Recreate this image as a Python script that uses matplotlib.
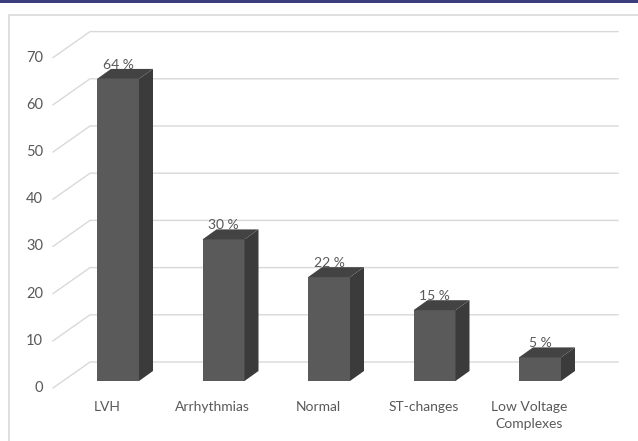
import matplotlib
matplotlib.use("Agg")
import matplotlib.pyplot as plt
from matplotlib.patches import Polygon, Rectangle

categories = ["LVH", "Arrhythmias", "Normal", "ST-changes", "Low Voltage\nComplexes"]
values = [64, 30, 22, 15, 5]
labels = ["64 %", "30 %", "22 %", "15 %", "5 %"]
yticks = [0, 10, 20, 30, 40, 50, 60, 70]

# pixel scale of the original (x: px per category, y: px per unit)
PX_X = 105.5
PX_Y = 4.72

def dx(px):
    return px / PX_X

def dy(px):
    return px / PX_Y

TEXT = "#595959"
GRID = "#d9d9d9"
FRONT = "#5a5a5a"
SIDE = "#3b3b3b"
TOP = "#434343"

fig = plt.figure(figsize=(6.38, 4.41), dpi=100)
ax = fig.add_axes([0, 0, 1, 1])
ax.set_xlim(-118 / PX_X, (638 - 118) / PX_X)
ax.set_ylim((381 - 441) / PX_Y, 381 / PX_Y)
ax.axis("off")

plt.rcParams["font.family"] = ["Lato", "DejaVu Sans"]

# outer frame and top rule
fig.patches.append(Rectangle((8.5 / 638, -0.01), 1.0, 1 - 10.5 / 441, transform=fig.transFigure,
                             fill=False, edgecolor="#d9d9d9", linewidth=1.2))
fig.patches.append(Rectangle((0, 1 - 2.5 / 441), 1.0, 2.5 / 441, transform=fig.transFigure,
                             facecolor="#3c3f7c", edgecolor="none"))

# back wall gridlines + side wall diagonals
back_x0, back_x1 = dx(90 - 118), dx(618 - 118)
front_x = dx(53 - 118)
back_off, front_off = dy(19), dy(-7)
for v in yticks:
    ax.plot([front_x, back_x0, back_x1], [v + front_off, v + back_off, v + back_off],
            color=GRID, linewidth=1.0, zorder=1)
    ax.text(front_x - dx(10), v + front_off, str(v), ha="right", va="center",
            fontsize=10.5, color=TEXT)

# bars
hw = dx(21)
ddx, ddy = dx(14), dy(10)
for i, (v, lab, cat) in enumerate(zip(values, labels, categories)):
    l, r = i - hw, i + hw
    ax.add_patch(Polygon([(l, 0), (r, 0), (r, v), (l, v)], closed=True,
                         facecolor=FRONT, edgecolor="none", zorder=3))
    ax.add_patch(Polygon([(r, 0), (r + ddx, ddy), (r + ddx, v + ddy), (r, v)], closed=True,
                         facecolor=SIDE, edgecolor="none", zorder=3))
    ax.add_patch(Polygon([(l, v), (r, v), (r + ddx, v + ddy), (l + ddx, v + ddy)], closed=True,
                         facecolor=TOP, edgecolor="none", zorder=3))
    ax.text(i, v + ddy + dy(4), lab, ha="center", va="center", fontsize=10,
            color=TEXT, zorder=4)
    ax.text(i - dx(11), dy(-20), cat, ha="center", va="top", fontsize=10,
            color=TEXT, linespacing=1.45)

fig.savefig("out.png", dpi=100)
